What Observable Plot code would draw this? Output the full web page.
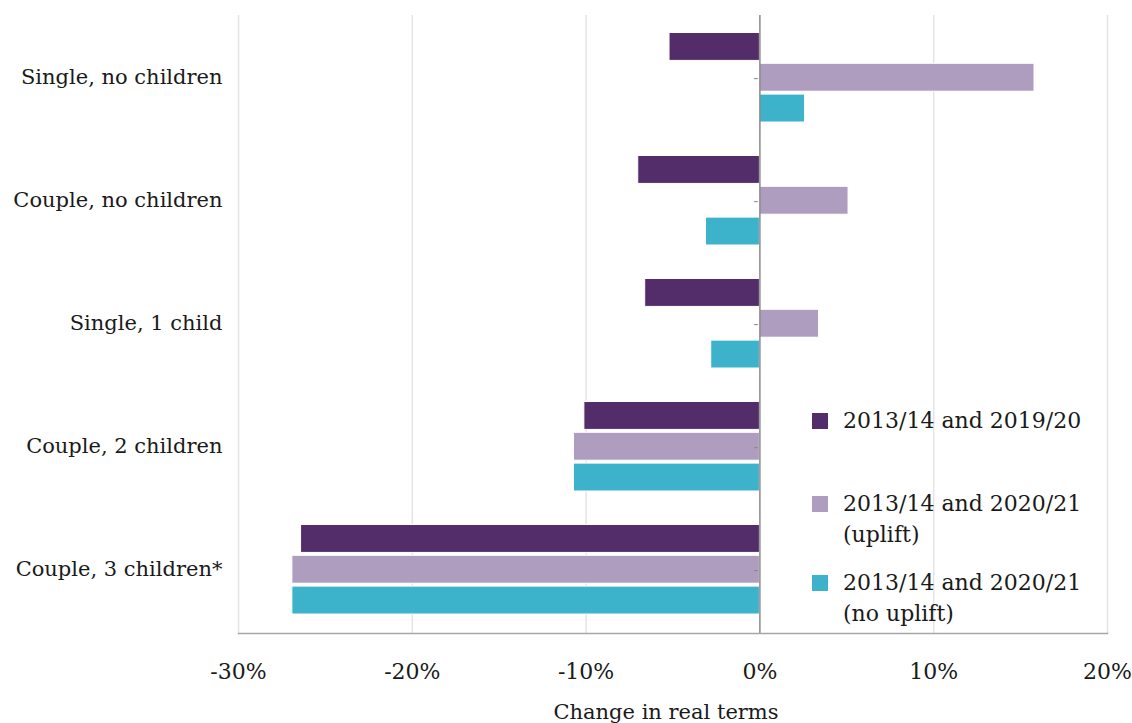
<!DOCTYPE html>
<html>
<head>
<meta charset="utf-8">
<script src="https://cdn.jsdelivr.net/npm/d3@7"></script>
<script src="https://cdn.jsdelivr.net/npm/@observablehq/plot@0.6"></script>
<style>
  html, body { margin: 0; padding: 0; background: #fff; }
  #wrap { position: relative; width: 1132px; height: 723px; overflow: hidden; font-family: "DejaVu Serif", serif; }
  #legend { position: absolute; left: 812px; top: 405px; font-size: 22px; color: #1a1a1a; line-height: 31px; }
  .item { position: relative; padding-left: 31px; }
  .sw { position: absolute; left: 0; width: 16px; height: 16px; top: 8px; }
</style>
</head>
<body>
<div id="wrap"><div id="legend"></div></div>
<script>
const categories = ["Single, no children", "Couple, no children", "Single, 1 child", "Couple, 2 children", "Couple, 3 children*"];
const seriesNames = ["2013/14 and 2019/20", "2013/14 and 2020/21 (uplift)", "2013/14 and 2020/21 (no uplift)"];
const legendLines = [["2013/14 and 2019/20"], ["2013/14 and 2020/21", "(uplift)"], ["2013/14 and 2020/21", "(no uplift)"]];
const colors = ["#522d6a", "#ae9dbe", "#3db2cb"];
const v2019 = [-5.2, -7.0, -6.6, -10.1, -26.4];
const v2020uplift = [15.8, 5.1, 3.4, -10.7, -26.9];
const v2020noUplift = [2.6, -3.1, -2.8, -10.7, -26.9];
const xTicks = [-30, -20, -10, 0, 10, 20];
const xLabel = "Change in real terms";

const seriesValues = [v2019, v2020uplift, v2020noUplift];
const data = seriesValues.flatMap((vals, s) => vals.map((v, i) => ({category: categories[i], series: seriesNames[s], value: v, s})));

const band = 123.6;
const barMarks = [0, 1, 2].map(s => Plot.barX(data.filter(d => d.s === s), {
  y: "category", x: "value", fill: colors[s], stroke: "#fff", strokeWidth: 1,
  insetTop: 15.5 + s * 30.8, insetBottom: band - (15.5 + s * 30.8) - 28.5
}));

const chart = Plot.plot({
  width: 1132,
  height: 723,
  marginLeft: 238,
  marginRight: 25,
  marginTop: 15,
  marginBottom: 90,
  style: {fontFamily: "DejaVu Serif, serif", fontSize: "21px", color: "#1a1a1a", background: "transparent"},
  x: {domain: [-30, 20], axis: null},
  y: {domain: categories, padding: 0, axis: null},
  marks: [
    Plot.ruleX(xTicks.filter(t => t !== 0), {stroke: "#e4e4e4", strokeWidth: 1.5}),
    ...barMarks,
    Plot.ruleX([0], {stroke: "#8a8a8a", strokeWidth: 1.5}),
    Plot.text(categories, {y: d => d, x: () => 0, text: () => "-", dx: -4, fill: "#8a8a8a", fontSize: 14}),
    Plot.frame({anchor: "bottom", stroke: "#a6a6a6", strokeWidth: 1.5}),
    Plot.axisY({tickSize: 0, tickPadding: 16, dy: -2, fontSize: 21, fill: "#1a1a1a", label: null}),
    Plot.axisX({ticks: xTicks, tickFormat: d => `${d}%`, tickSize: 0, tickPadding: 30, fontSize: 22, fill: "#1a1a1a", label: null}),
    Plot.text([xLabel], {text: d => d, frameAnchor: "bottom", dy: 85, dx: -7, fontSize: 21, fill: "#1a1a1a"})
  ]
});
document.getElementById("wrap").prepend(chart);

const legend = document.getElementById("legend");
legendLines.forEach((lines, i) => {
  const it = document.createElement("div");
  it.className = "item";
  it.style.marginBottom = i === 0 ? "52px" : "17px";
  it.innerHTML = `<span class="sw" style="background:${colors[i]}"></span>` + lines.join("<br>");
  legend.appendChild(it);
});
</script>
</body>
</html>
